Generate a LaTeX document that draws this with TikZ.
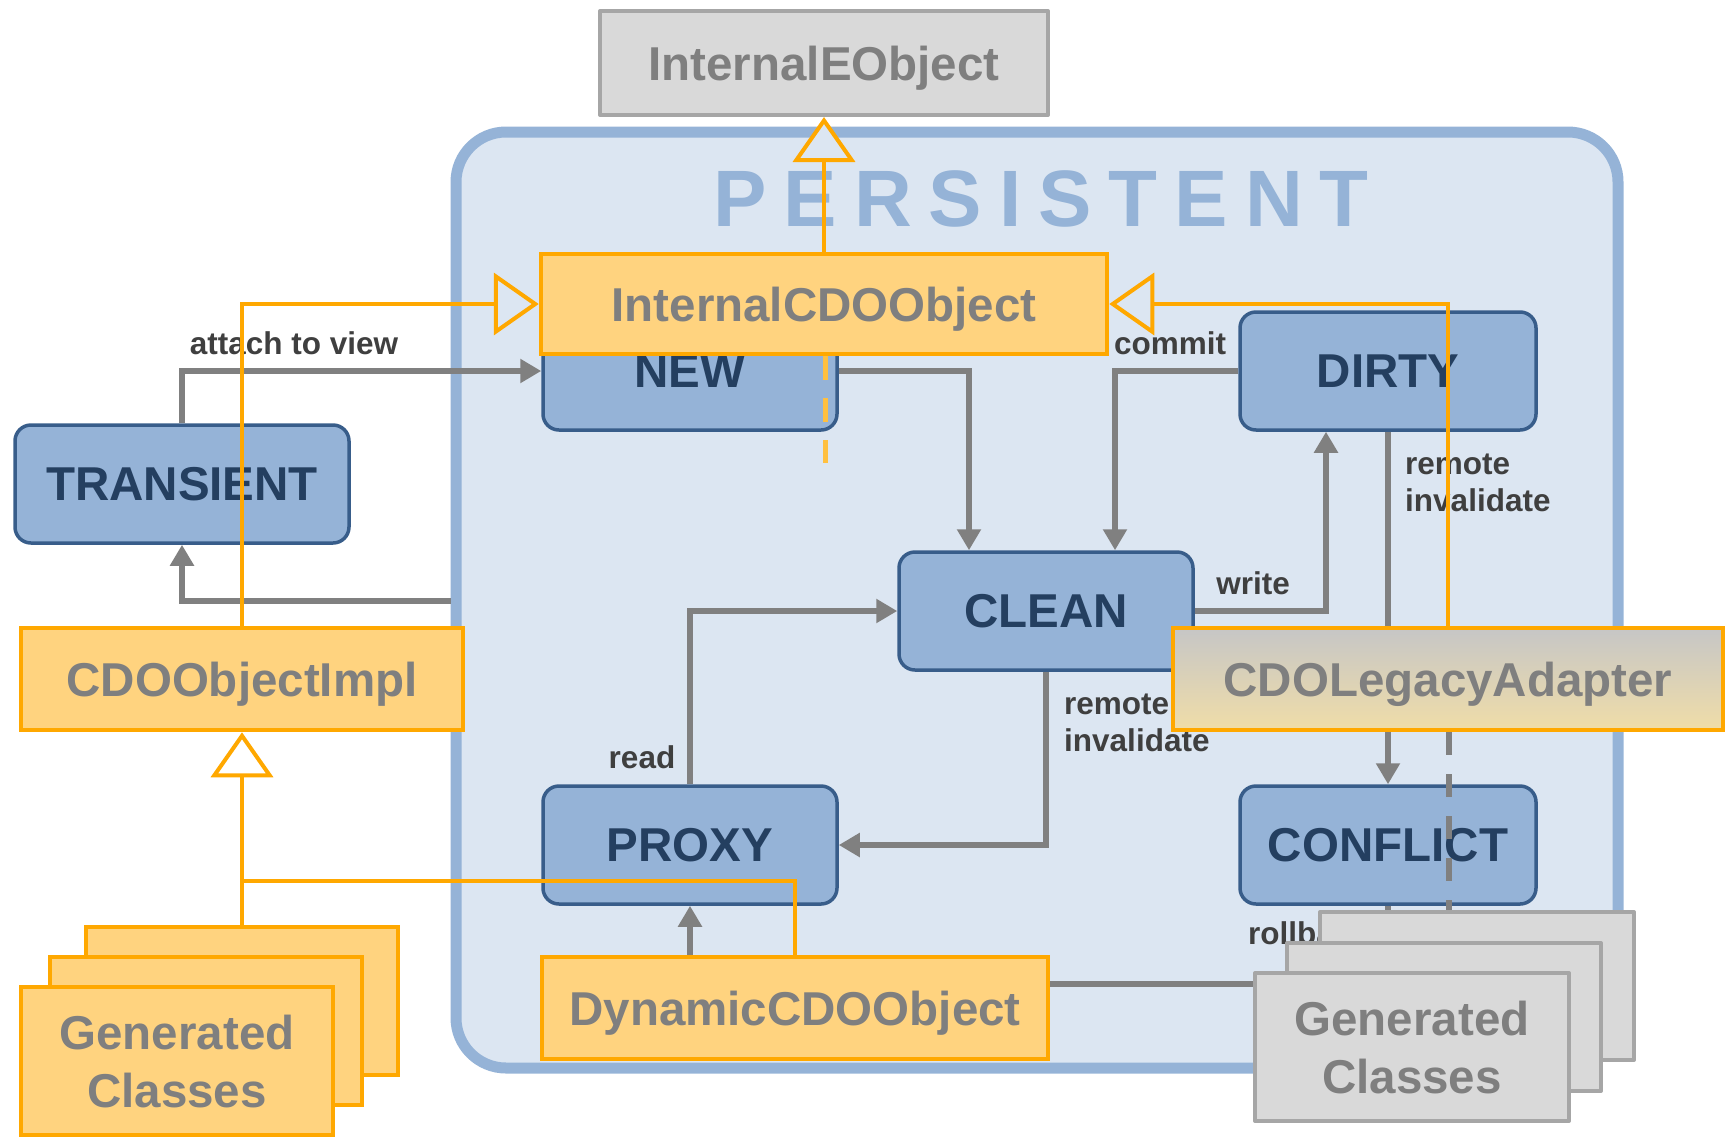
\documentclass[tikz,border=0pt]{standalone}
\usepackage{fontspec}
\setmainfont{Liberation Sans}
\usetikzlibrary{arrows.meta}
\definecolor{bluebg}{HTML}{DCE6F2}
\definecolor{blueframe}{HTML}{95B3D7}
\definecolor{boxblue}{HTML}{95B3D7}
\definecolor{boxbord}{HTML}{385D8A}
\definecolor{navytext}{HTML}{243F60}
\definecolor{orfill}{HTML}{FFD37F}
\definecolor{ordraw}{HTML}{FFA800}
\definecolor{gtext}{HTML}{7F7F7F}
\definecolor{gconn}{HTML}{808080}
\definecolor{labtext}{HTML}{3F3F3F}
\definecolor{gfill}{HTML}{D9D9D9}
\definecolor{gdraw}{HTML}{A6A6A6}
\definecolor{ordash}{HTML}{FFC040}
\definecolor{legtop}{HTML}{C6C6C6}
\definecolor{legmid}{HTML}{C0C0C0}
\definecolor{legbot}{HTML}{F0DDA8}
\newcommand\cdobig{\fontsize{47.5pt}{58pt}\selectfont\bfseries}
\newcommand\cdolab{\fontsize{31.5pt}{37.5pt}\selectfont\bfseries}
\newcommand\cdopers{\fontsize{80pt}{90pt}\selectfont\bfseries}
\begin{document}
\begin{tikzpicture}[x=1pt,y=-1pt,
  state/.style={draw=boxbord, fill=boxblue, line width=3.5pt, rounded corners=16pt, text=navytext, font=\cdobig, inner sep=0pt},
  cls/.style={draw=ordraw, fill=orfill, line width=4.5pt, text=gtext, font=\cdobig, inner sep=0pt, align=center, text depth=0pt},
  legcls/.style={draw=ordraw, line width=4.5pt, text=gtext, font=\cdobig, inner sep=0pt, text depth=0pt, top color=legtop, middle color=legmid, bottom color=legbot},
  gcls/.style={draw=gdraw, fill=gfill, line width=4pt, text=gtext, font=\cdobig, inner sep=0pt, line join=round, align=center, text depth=0pt},
  tr/.style={draw=gconn, line width=5.5pt, -{Triangle[length=21pt,width=23pt]}},
  lab/.style={text=labtext, font=\cdolab, inner sep=0pt},
  inh/.style={draw=ordraw, line width=4pt, -{Triangle[length=45pt,width=62pt,fill=#1]}},
  inh/.default=bluebg,
  oline/.style={draw=ordraw, line width=4pt},
]
\useasboundingbox (0,0) rectangle (1726,1136);

% container
\node[draw=blueframe, fill=bluebg, line width=11pt, rounded corners=50pt,
      minimum width=1162pt, minimum height=936pt, inner sep=0pt] (persist) at (1037,600) {};
\node[anchor=base, text=blueframe, font=\cdopers, inner sep=0pt] (pers) at (1041,226)
  {\spaceskip=17pt P E R S I S T E N T};

% InternalEObject
\node[gcls, minimum width=448pt, minimum height=104pt] (ieo) at (824,63) {InternalEObject};

% states
\node[state, minimum width=294pt, minimum height=118pt] (new) at (690,371) {NEW};
\node[state, minimum width=296pt, minimum height=118pt] (dirty) at (1388,371) {DIRTY};
\node[state, minimum width=334pt, minimum height=118pt] (trans) at (182,484) {TRANSIENT};
\node[state, minimum width=294pt, minimum height=118pt] (clean) at (1046,611) {CLEAN};
\node[state, minimum width=294pt, minimum height=118pt] (proxy) at (690,845) {PROXY};
\node[state, minimum width=296pt, minimum height=118pt] (conflict) at (1388,845) {CONFLICT};

% transitions
\coordinate (detach) at (persist.west |- 0,601);
\coordinate (rbturn) at (conflict.south |- 0,984);
\draw[tr] (trans.north) |- (new.west);
\draw[tr] (detach) -| (trans.south);
\draw[tr] (new.east) -| ([xshift=-77pt]clean.north);
\draw[tr] (dirty.west) -| ([xshift=69pt]clean.north);
\draw[tr] (clean.east) -| ([xshift=-62pt]dirty.south);
\draw[tr] (dirty.south) -- (conflict.north);
\draw[tr] (clean.south) |- (proxy.east);
\draw[tr] (proxy.north) |- (clean.west);
\draw[tr] (conflict.south) -- (rbturn) -| (proxy.south);

% transition labels
\node[lab, anchor=base] (lattach) at (294,354.5) {attach to view};
\node[lab, anchor=base] (lcommit) at (1170,354.5) {commit};
\node[lab, anchor=base] (lwrite) at (1253,594) {write};
\node[lab, anchor=base] (lread) at (642,768) {read};
\node[lab, anchor=base west] (lroll) at (1248,944) {rollback};
\node[lab, anchor=north west, align=left] (lremr) at (1405,453.5) {remote\\invalidate};
\node[lab, anchor=north west, align=left] (lremm) at (1064,693.5) {remote\\invalidate};

% classes
\node[cls, minimum width=566pt, minimum height=100pt] (icdo) at (824,304) {InternalCDOObject};
\node[cls, minimum width=442pt, minimum height=102pt] (impl) at (242,679) {CDOObjectImpl};
\node[legcls, minimum width=550pt, minimum height=102pt] (legacy) at (1448,679) {CDOLegacyAdapter};
\node[cls, minimum width=506pt, minimum height=102pt] (dyn) at (795,1008) {DynamicCDOObject};
\node[cls, minimum width=312pt, minimum height=148pt] (og3) at (242,1001) {};
\node[cls, minimum width=312pt, minimum height=148pt] (og2) at (206,1031) {};
\node[cls, minimum width=312pt, minimum height=148pt] (og1) at (177,1061) {Generated\\Classes};

% inheritance
\coordinate (dashend) at (825,463);
\coordinate (join) at (242,881);
\draw[inh] (icdo.north) -- (ieo.south);
\draw[inh] (impl.north) |- (icdo.west);
\draw[inh] (legacy.north) |- (icdo.east);
\draw[inh=white] (og3.north) -- (impl.south);
\draw[oline] (dyn.north) |- (join);
\draw[draw=ordash, line width=5pt, dash pattern=on 24pt off 18pt] ([xshift=1pt]icdo.south) -- (dashend);
\draw[draw=gconn, line width=5.5pt, dash pattern=on 23pt off 19pt] ([xshift=1pt]legacy.south) -- ([xshift=1pt]legacy.south |- 0,910);

% generated classes (gray)
\node[gcls, minimum width=314pt, minimum height=148pt] (gs3) at (1477,986) {};
\node[gcls, minimum width=314pt, minimum height=148pt] (gs2) at (1444,1017) {};
\node[gcls, minimum width=314pt, minimum height=148pt] (gs1) at (1412,1047) {Generated\\Classes};
\end{tikzpicture}
\end{document}
